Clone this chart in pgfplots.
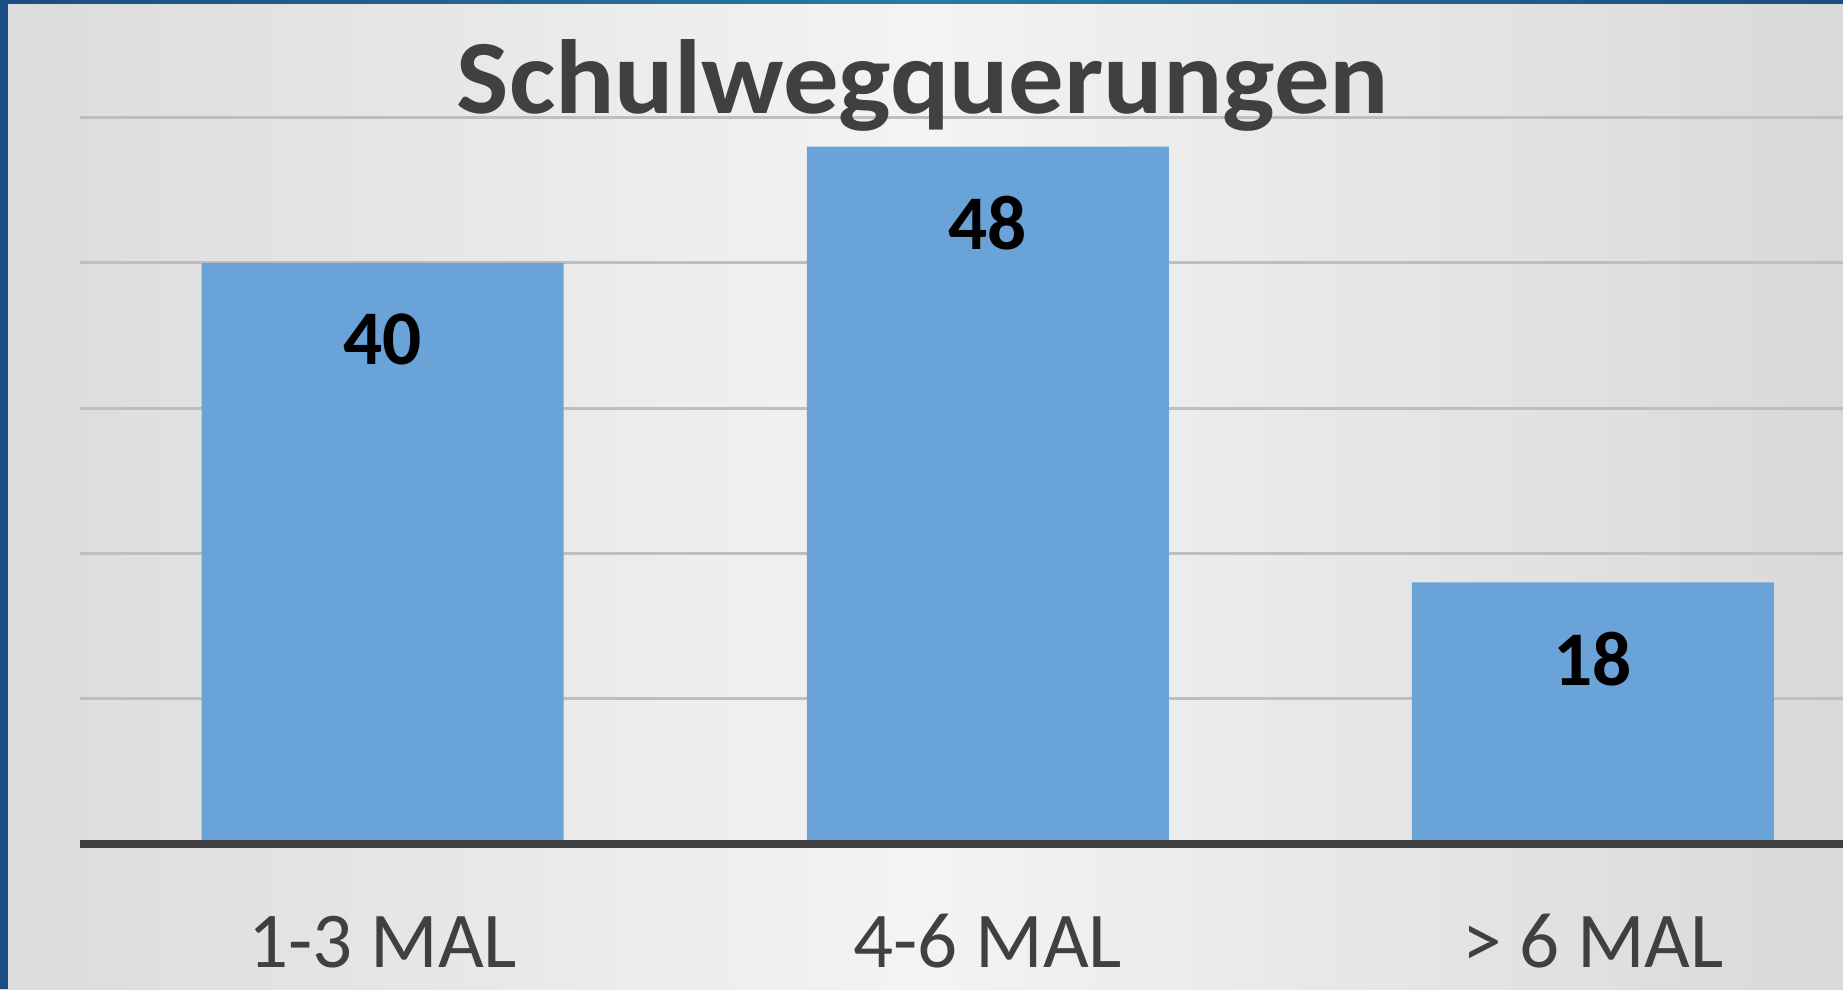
\documentclass[border=0pt]{standalone}
\usepackage{fontspec}
\setmainfont{Carlito}
\usepackage{graphicx}
\usepackage{pgfplots}
\pgfplotsset{compat=1.18}
\definecolor{barblue}{HTML}{6AA3D8}
\definecolor{txtgray}{HTML}{404040}
\definecolor{gridgray}{HTML}{BEBEBE}
\definecolor{frameblue}{HTML}{1B4C84}
\definecolor{frameteal}{HTML}{2A78A6}

\begin{document}
\begin{tikzpicture}
  \useasboundingbox (0,0) rectangle (184.3mm,98.9mm);
  % background
  \shade[left color=gray!28, right color=gray!30, middle color=gray!9] (0,0) rectangle (184.3mm,98.9mm);
  \fill[frameblue] (0,0) rectangle (0.85mm,98.9mm);
  \shade[left color=frameblue, right color=frameblue, middle color=frameteal] (0,98.5mm) rectangle (184.3mm,98.9mm);

  \begin{axis}[
    at={(8mm,14.5mm)}, anchor=south west,
    scale only axis,
    width=176.33mm, height=72.65mm,
    xmin=-0.5, xmax=2.4137,
    ymin=0, ymax=50,
    ybar, bar width=36.2mm,
    axis line style={draw=none},
    xtick={0,1,2},
    xticklabels={1-3 MAL,4-6 MAL,> 6 MAL},
    xtick style={draw=none},
    xticklabel style={font=\fontsize{22.5}{22.5}\selectfont, text=txtgray, anchor=base, yshift=-10.8mm},
    ytick={0,10,20,30,40,50},
    yticklabels={},
    ytick style={draw=none},
    ymajorgrids,
    grid style={gridgray, line width=0.28mm},
    /pgf/number format/assume math mode=true,
    nodes near coords,
    every node near coord/.append style={font=\bfseries\fontsize{22}{22}\selectfont, text=black, anchor=center, yshift=-7.7mm},
    clip=false,
  ]
    \addplot[fill=barblue, draw=none] coordinates {(0,40) (1,48) (2,18)};
    \draw[txtgray, line width=0.8mm] (axis cs:-0.5,0) -- (axis cs:2.4137,0);
  \end{axis}

  \node[anchor=base, text=txtgray, font=\bfseries\fontsize{30}{30}\selectfont] at (92.3mm,87.6mm) {\scalebox{1.05}[1]{Schulwegquerungen}};
\end{tikzpicture}
\end{document}
